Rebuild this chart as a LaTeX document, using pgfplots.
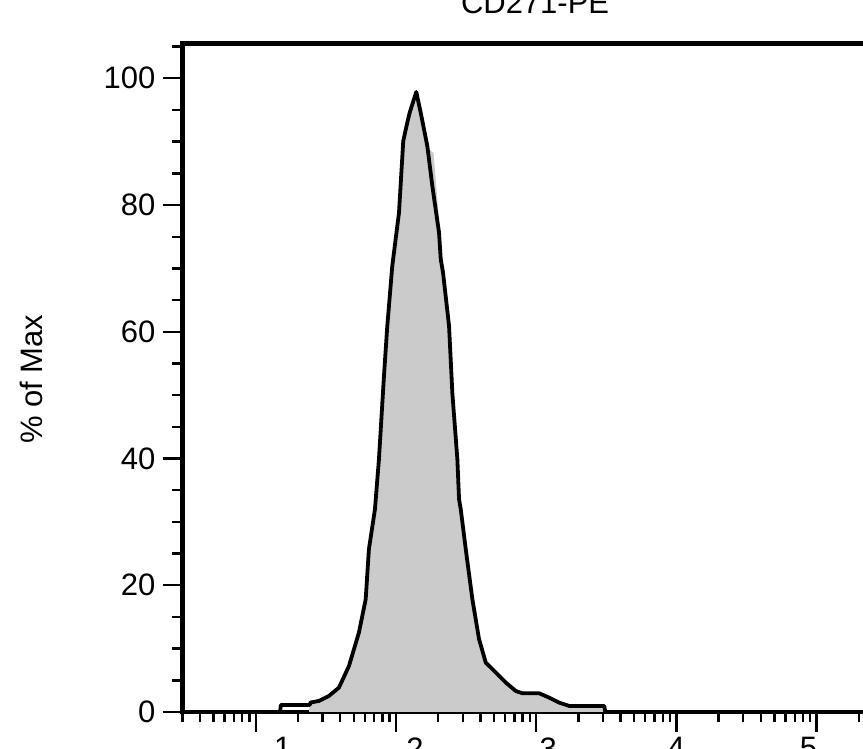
\documentclass[border=0pt]{standalone}
\usepackage{pgfplots}
\pgfplotsset{compat=1.18}
\usepackage{fontspec}
\setmainfont{Liberation Sans}
\definecolor{histgray}{RGB}{203,203,203}
\newcommand{\lblfont}{\fontsize{15.5pt}{18pt}\selectfont}

\pgfplotstableread{
x y
14.9 0
15.1 1.1
24.2 1.1
24.6 1.5
28.2 1.74
33.2 2.52
39.2 3.85
46.2 7.26
54.4 12.53
60.8 17.78
64.1 25.67
70.8 31.99
75.6 39.88
82.1 53.02
86.7 60.91
94.1 70.38
105.1 78.81
112.7 90.11
120.4 93.01
125.3 94.59
139.6 97.84
150.1 94.59
167.3 89.32
181.7 83.00
202.8 75.65
208.6 71.44
216.6 69.34
239.1 60.91
252.5 50.28
274.1 39.88
281.8 33.57
289.8 31.99
314.7 25.67
350.8 17.78
391.6 11.47
437.2 7.79
515.3 6.22
607.5 4.64
716.1 3.31
798.4 2.95
1050 2.95
1238 2.27
1460 1.48
1721 0.95
3060 0.95
3112 0
}\blackdata

\pgfplotstableread{
x y
24.0 0
24.2 1.1
24.6 1.5
28.2 1.74
33.2 2.52
39.2 3.85
46.2 7.26
54.4 12.53
60.8 17.78
64.1 25.67
70.8 31.99
75.6 39.88
82.1 53.02
86.7 60.91
94.1 70.38
105.1 78.81
112.7 90.11
120.4 93.01
125.3 94.59
136.4 97.2
150.1 94.59
160.0 91.2
172.0 88.8
185.5 88.2
194.5 82.5
207.2 75.4
216.6 69.34
239.1 60.91
252.5 50.28
274.1 39.88
281.8 33.57
289.8 31.99
314.7 25.67
350.8 17.78
391.6 11.47
437.2 7.79
515.3 6.22
607.5 4.64
716.1 3.31
798.4 2.95
1050 2.95
1238 2.27
1460 1.48
1721 0.95
3060 0.95
3100 0
}\graydata

\pgfplotsset{every axis title/.style={at={(0.509,1.0449)}, anchor=base, font=\lblfont}}

\begin{document}
\begin{tikzpicture}
\useasboundingbox (-91.25pt,-18.5pt) rectangle (340.25pt,356pt);
\begin{scope}[overlay]
\clip (-91.25pt,-18.5pt) rectangle (340.25pt,356pt);
\begin{axis}[
  at={(0,0)}, anchor=south west,
  scale only axis,
  width=346.35pt, height=334.25pt,
  xmode=log,
  xmin=3, xmax=262144,
  ymin=0, ymax=105.49,
  xtick={10,100,1000,10000,100000},
  xticklabels={},
  minor xtick={3,4,5,6,7,8,9,20,30,40,50,60,70,80,90,200,300,400,500,600,700,800,900,2000,3000,4000,5000,6000,7000,8000,9000,20000,30000,40000,50000,60000,70000,80000,90000,200000},
  ytick={0,20,40,60,80,100},
  minor ytick={5,10,15,25,30,35,45,50,55,65,70,75,85,90,95,105},
  tick align=outside,
  tick pos=left,
  major tick length=10pt,
  minor tick length=5.2pt,
  tick style={line width=1.2pt, black},
  axis line style={line width=2.2pt},
  /pgf/number format/assume math mode=true,
  tick label style={font=\lblfont},
  yticklabel style={anchor=east},
  title={CD271-PE},
  ylabel={\% of Max},
  ylabel style={font=\lblfont, at={(-0.2014,0.498)}, anchor=base},
  clip mode=individual,
]
\addplot[fill=histgray, draw=none] table[x=x,y=y] {\graydata} \closedcycle;
\addplot[black, line width=1.9pt, line join=round] table[x=x,y=y] {\blackdata};
\node[anchor=north, inner sep=0pt, font=\lblfont, yshift=-12.5pt] at (axis cs:15.6,0) {1};
\node[anchor=north, inner sep=0pt, font=\lblfont, yshift=-12.5pt] at (axis cs:136.7,0) {2};
\node[anchor=north, inner sep=0pt, font=\lblfont, yshift=-12.5pt] at (axis cs:1218,0) {3};
\node[anchor=north, inner sep=0pt, font=\lblfont, yshift=-12.5pt] at (axis cs:10000,0) {4};
\node[anchor=north, inner sep=0pt, font=\lblfont, yshift=-12.5pt] at (axis cs:87700,0) {5};
\end{axis}
\end{scope}
\end{tikzpicture}
\end{document}
